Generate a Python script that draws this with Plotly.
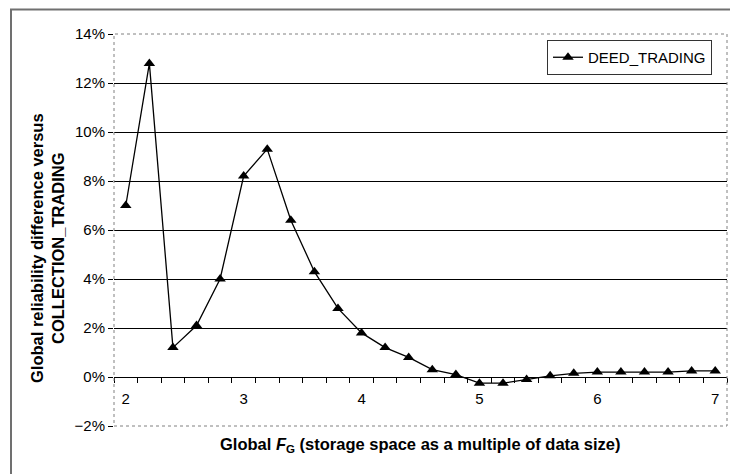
import plotly.graph_objects as go

# ---- data ----
fg_values = [2.0, 2.2, 2.4, 2.6, 2.8, 3.0, 3.2, 3.4, 3.6, 3.8, 4.0, 4.2, 4.4,
             4.6, 4.8, 5.0, 5.2, 5.4, 5.6, 5.8, 6.0, 6.2, 6.4, 6.6, 6.8, 7.0]
deed_trading = [0.070, 0.128, 0.012, 0.021, 0.040, 0.082, 0.093, 0.064, 0.043,
                0.028, 0.018, 0.012, 0.008, 0.003, 0.001, -0.0025, -0.0025,
                -0.001, 0.0005, 0.0015, 0.002, 0.002, 0.002, 0.002, 0.0025, 0.0025]
x_tick_vals = [2, 3, 4, 5, 6, 7]
x_tick_text = ["2", "3", "4", "5", "6", "7"]
y_tick_vals = [-0.02, 0.0, 0.02, 0.04, 0.06, 0.08, 0.10, 0.12, 0.14]
y_grid_vals = [0.0, 0.02, 0.04, 0.06, 0.08, 0.10, 0.12]
series_name = "DEED_TRADING"

# category boundaries (tick marks sit between the categories, Excel style)
step = fg_values[1] - fg_values[0]
boundaries = [fg_values[0] - step / 2] + [(a + b) / 2 for a, b in zip(fg_values[:-1], fg_values[1:])] + [fg_values[-1] + step / 2]

FONT = "Liberation Sans, Arial, sans-serif"

fig = go.Figure()
fig.add_trace(go.Scatter(
    x=fg_values, y=deed_trading, name=series_name, mode="lines+markers",
    line=dict(color="black", width=1.3),
    marker=dict(symbol="triangle-up", size=10, color="black"),
))

W, H = 730, 474
L, R, T, B = 114, 3, 34, 48
pw, ph = W - L - R, H - T - B

def px_x(p):
    return (p - L) / pw

def px_y(p):
    return (H - B - p) / ph

y0, y1 = -0.02, 0.14

fig.update_layout(
    width=W, height=H,
    margin=dict(l=L, r=R, t=T, b=B, pad=0),
    paper_bgcolor="white", plot_bgcolor="white",
    font=dict(family=FONT, size=15, color="black"),
    showlegend=True,
    legend=dict(
        x=px_x(547), y=px_y(40), xanchor="left", yanchor="top",
        bgcolor="white", bordercolor="#333333", borderwidth=1,
        font=dict(family=FONT, size=15, color="black"),
        itemwidth=30, tracegroupgap=0,
    ),
    xaxis=dict(
        range=[boundaries[0], boundaries[-1]],
        tickmode="array", tickvals=x_tick_vals, ticktext=x_tick_text,
        ticks="", showgrid=False, zeroline=False,
        showline=True, linecolor="black", linewidth=1,
        anchor="free", position=(0 - y0) / (y1 - y0),
        ticklabelstandoff=8,
        tickfont=dict(family=FONT, size=15, color="black"),
        minor=dict(tickmode="array", tickvals=boundaries, ticks="outside",
                   ticklen=5, tickcolor="black", tickwidth=1, showgrid=False),
    ),
    yaxis=dict(
        range=[y0, y1],
        tickmode="array", tickvals=y_tick_vals, tickformat=".0%",
        ticks="outside", ticklen=5, tickcolor="black", tickwidth=1,
        showgrid=False, zeroline=False, showline=False,
        tickfont=dict(family=FONT, size=15, color="black"),
        minor=dict(tickmode="array", tickvals=y_grid_vals, ticks="",
                   showgrid=True, gridcolor="black", gridwidth=1),
    ),
    shapes=[
        # plot-area border (dotted grey)
        dict(type="rect", xref="x domain", yref="y domain", x0=0, x1=1, y0=0, y1=1,
             line=dict(color="#808080", width=1, dash="dot"), layer="above"),
        # outer chart frame
        dict(type="rect", xref="paper", yref="paper",
             x0=px_x(11), x1=px_x(740), y0=px_y(484), y1=px_y(9.5),
             line=dict(color="#707070", width=2), layer="below"),
    ],
    annotations=[
        dict(text="<b>Global reliability difference versus<br>COLLECTION_TRADING</b>",
             xref="paper", yref="paper", x=px_x(47), y=px_y(248),
             xanchor="center", yanchor="middle", textangle=-90, showarrow=False,
             font=dict(family=FONT, size=16.5, color="black")),
        dict(text="<b>Global <i>F</i><sub>G</sub> (storage space as a multiple of data size)</b>",
             xref="paper", yref="paper", x=px_x(421), y=px_y(445),
             xanchor="center", yanchor="middle", showarrow=False,
             font=dict(family=FONT, size=16.5, color="black")),
    ],
)

fig.write_html("out.html", config={"displayModeBar": False},
               post_script="document.body.style.margin='0px';")
